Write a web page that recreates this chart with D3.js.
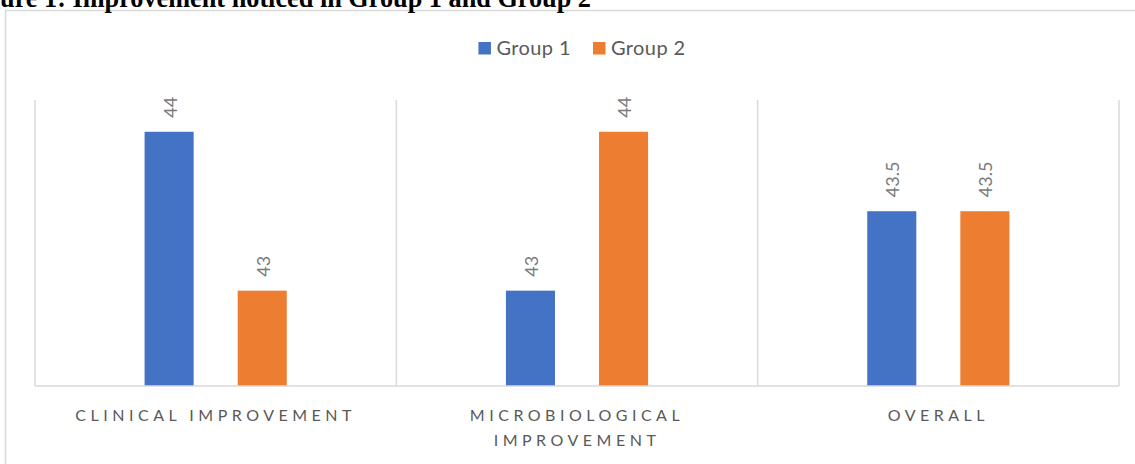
<!DOCTYPE html>
<html><head><meta charset="utf-8">
<script src="https://cdn.jsdelivr.net/npm/d3@7"></script>
<style>
html,body{margin:0;padding:0;background:#fff;overflow:hidden;}
svg{display:block;}
</style></head>
<body>
<script>
const categories = ["CLINICAL IMPROVEMENT", "MICROBIOLOGICAL IMPROVEMENT", "OVERALL"];
const seriesNames = ["Group 1", "Group 2"];
const group1 = [44, 43, 43.5];
const group2 = [43, 44, 43.5];
const yDomain = [42.4, 44.2];
const titleText = "Figure 1: Improvement noticed in Group 1 and Group 2";

const W = 1135, H = 464;
const colors = {"Group 1": "#4472C4", "Group 2": "#ED7D31"};
const font = "Lato, 'Open Sans', sans-serif";

const svg = d3.select("body").append("svg").attr("width", W).attr("height", H);

// chart frame
svg.append("rect").attr("x", 5.5).attr("y", 10.5).attr("width", W + 20).attr("height", H + 20)
  .attr("fill", "#fff").attr("stroke", "#d9d9d9").attr("stroke-width", 1.5);

// title (clipped at top, as in reference)
const title = svg.append("text").attr("font-family", "'Liberation Serif', 'Times New Roman', serif")
  .attr("font-weight", "bold").attr("fill", "#000").attr("font-size", 20).text(titleText);
const sub = svg.append("text").attr("font-family", "'Liberation Serif', serif").attr("font-weight", "bold")
  .attr("font-size", 20).text(titleText.slice(3));
const fs = 20 * 591 / sub.node().getComputedTextLength();
sub.remove();
title.attr("font-size", fs).attr("text-anchor", "end").attr("x", 591).attr("y", 7);

const plot = {left: 35, right: 1119, top: 100, bottom: 386};

const x0 = d3.scaleBand().domain(categories).range([plot.left, plot.right]).paddingInner(0).paddingOuter(0);
const x1 = d3.scaleBand().domain(seriesNames).range([0, x0.bandwidth()]).paddingInner(0.473).paddingOuter(1.177);
const y = d3.scaleLinear().domain(yDomain).range([plot.bottom, plot.top]);

// vertical category separators
const seps = x0.domain().map(d => x0(d)).concat([plot.right]);
svg.append("g").selectAll("line").data(seps).join("line")
  .attr("x1", d => d).attr("x2", d => d).attr("y1", plot.top).attr("y2", plot.bottom)
  .attr("stroke", "#d9d9d9").attr("stroke-width", 1.5);

const rows = categories.map((c, i) => ({cat: c, vals: [
  {s: "Group 1", v: group1[i]}, {s: "Group 2", v: group2[i]}]}));

const g = svg.append("g").selectAll("g").data(rows).join("g")
  .attr("transform", d => `translate(${x0(d.cat)},0)`);

g.selectAll("rect").data(d => d.vals).join("rect")
  .attr("x", d => x1(d.s)).attr("width", x1.bandwidth())
  .attr("y", d => y(d.v)).attr("height", d => y(yDomain[0]) - y(d.v))
  .attr("fill", d => colors[d.s]);

g.selectAll("text.lbl").data(d => d.vals).join("text").attr("class", "lbl")
  .attr("transform", d => `translate(${x1(d.s) + x1.bandwidth() / 2 + 1},${y(d.v) - 14}) rotate(-90)`)
  .attr("dy", "0.36em").attr("text-anchor", "start")
  .attr("font-family", font).attr("font-size", 18).attr("fill", "#7a7a7a")
  .text(d => d.v);

// baseline axis
const xAxis = d3.axisBottom(x0).tickSize(0).tickPadding(0);
const ax = svg.append("g").attr("transform", `translate(0,${plot.bottom})`).call(xAxis);
ax.select(".domain").attr("stroke", "#d9d9d9").attr("stroke-width", 1.5)
  .attr("d", `M${plot.left},0H${plot.right}`);
ax.selectAll(".tick text").remove();
ax.selectAll(".tick").each(function(d) {
  const t = d3.select(this);
  const bw = x0.bandwidth();
  const words = d.split(" ");
  const lines = [];
  const probe = t.append("text").attr("font-family", font).attr("font-size", 16).attr("letter-spacing", "4.5px");
  let cur = "";
  words.forEach(w => {
    const test = cur ? cur + " " + w : w;
    probe.text(test);
    if (probe.node().getComputedTextLength() > bw * 0.9 && cur) { lines.push(cur); cur = w; }
    else cur = test;
  });
  lines.push(cur);
  probe.remove();
  const txt = t.append("text").attr("font-family", font).attr("font-size", 16)
    .attr("letter-spacing", "4.5px").attr("fill", "#595959").attr("text-anchor", "middle");
  lines.forEach((l, i) => txt.append("tspan").attr("x", 0).attr("y", 35 + i * 25).text(l));
});

// legend
const leg = svg.append("g");
let lx = 0;
seriesNames.forEach((s, i) => {
  const it = leg.append("g").attr("transform", `translate(${lx},0)`);
  it.append("rect").attr("x", 0).attr("y", 42).attr("width", 12.5).attr("height", 12.5).attr("fill", colors[s]);
  const tx = it.append("text").attr("x", 18).attr("y", 55).attr("font-family", font)
    .attr("font-size", 20).attr("letter-spacing", "0.4px").attr("fill", "#595959").text(s);
  lx += 18 + tx.node().getComputedTextLength() + 22;
});
const legW = lx - 22;
leg.attr("transform", `translate(${582 - legW / 2},0)`);
</script>
</body></html>
